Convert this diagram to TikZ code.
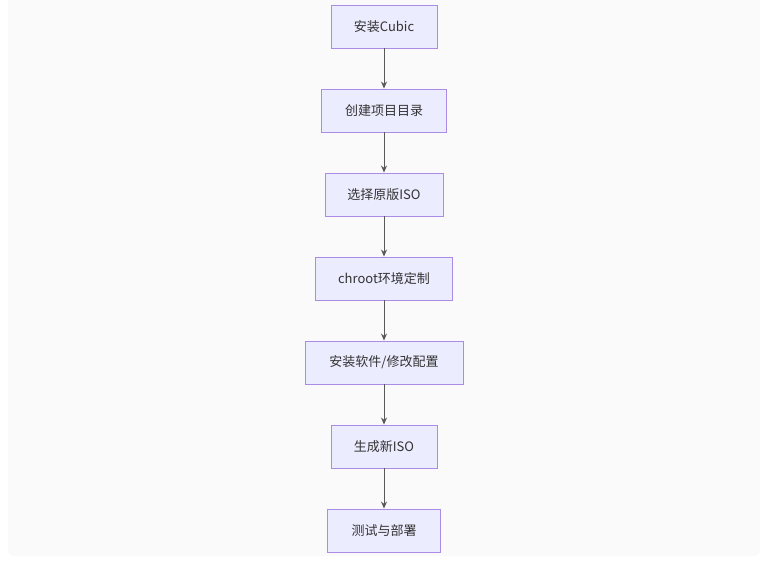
\documentclass[tikz,border=0pt]{standalone}
\usepackage{fontspec}
\setmainfont{Noto Sans CJK SC}
\usetikzlibrary{arrows.meta}
\begin{document}
\begin{tikzpicture}[x=1pt,y=-1pt,
  stepbox/.style={draw={rgb,255:red,170;green,140;blue,230},line width=0.9pt,fill={rgb,255:red,236;green,236;blue,255},
    minimum height=43pt,inner sep=0pt,font=\fontsize{13}{15}\selectfont,text=black!80},
  conn/.style={draw=black!65,line width=1pt,-{Stealth[length=7pt,width=6pt]}}]
\useasboundingbox (0,0) rectangle (777,564);
\fill[black!2,rounded corners=6pt] (8,-6) rectangle (760,556);
\node[stepbox,minimum width=106pt] (a) at (384,26.5) {安装Cubic};
\node[stepbox,minimum width=125pt] (b) at (384,110.5) {创建项目目录};
\node[stepbox,minimum width=118pt] (c) at (384,194.5) {选择原版ISO};
\node[stepbox,minimum width=137pt] (d) at (384,278.5) {chroot环境定制};
\node[stepbox,minimum width=158pt] (e) at (384,362.5) {安装软件/修改配置};
\node[stepbox,minimum width=106pt] (f) at (384,446.5) {生成新ISO};
\node[stepbox,minimum width=113pt] (g) at (384,530.5) {测试与部署};
\foreach \u/\v in {a/b,b/c,c/d,d/e,e/f,f/g} \draw[conn] (\u) -- (\v);
\end{tikzpicture}
\end{document}
